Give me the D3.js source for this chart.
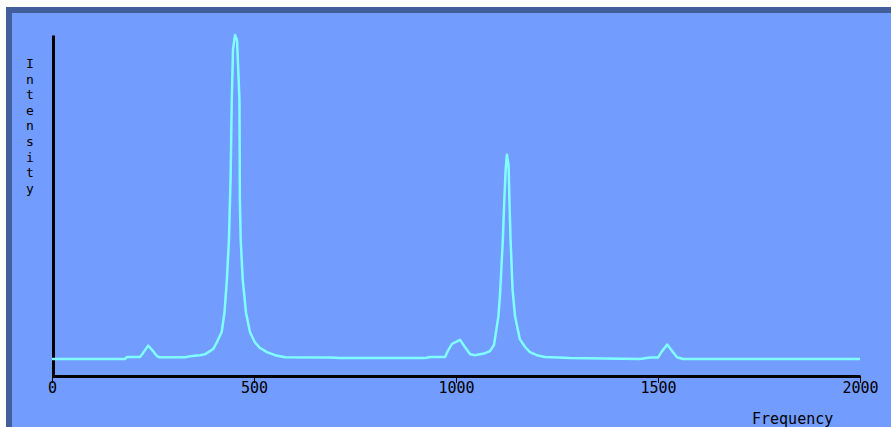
<!DOCTYPE html>
<html>
<head>
<meta charset="utf-8">
<script src="https://cdn.jsdelivr.net/npm/d3@7"></script>
<style>
  html, body { margin: 0; padding: 0; background: #fff; overflow: hidden; }
  #frame {
    position: absolute; left: 6px; top: 7px; width: 900px; height: 430px;
    background: #729cfe; border-left: 6px solid #435f9b; border-top: 6px solid #435f9b;
  }
  svg { position: absolute; left: 0; top: 0; }
</style>
</head>
<body>
<div id="frame"></div>
<div id="chart"></div>
<script>
// spectrum: frequency and relative intensity (peak = 100)
const freqs = [
  0, 181, 186, 218, 225, 238, 248, 260, 267, 329, 342, 366, 379, 391, 399, 408,
  420, 427, 433, 438, 442, 445, 448, 453, 458, 460, 464, 465, 467, 472, 480, 490,
  502, 515, 532, 552, 577, 688, 713, 923, 936, 973, 980, 990, 1010, 1022, 1035,
  1047, 1072, 1084, 1094, 1105, 1109, 1116, 1120, 1123, 1126, 1130, 1132, 1135,
  1140, 1146, 1158, 1171, 1183, 1200, 1220, 1282, 1455, 1480, 1500, 1510, 1523,
  1535, 1547, 1562, 2000,
]
const intensity = [
  5.0, 5.0, 5.6, 5.6, 6.7, 8.9, 7.6, 5.8, 5.5, 5.5, 5.8, 6.1, 6.4, 7.3, 7.9, 9.9,
  12.9, 18.7, 28.4, 40.1, 57.6, 81.0, 95.6, 100, 98.5, 92.7, 81.0, 51.8, 40.1, 28.4, 18.7, 12.9,
  9.9, 8.2, 7.0, 6.1, 5.5, 5.4, 5.3, 5.3, 5.6, 5.6, 7.4, 9.4, 10.6, 8.5, 6.4,
  6.1, 6.7, 7.3, 9.1, 17.5, 24.0, 40.1, 52.7, 60.5, 64.9, 62.0, 52.7, 40.1,
  25.4, 17.6, 10.8, 8.5, 7.0, 6.1, 5.6, 5.3, 5.0, 5.4, 5.4, 7.3, 9.2,
  7.3, 5.5, 5.0, 5.0,
]
const xTicks = [0, 500, 1000, 1500, 2000]
const yLabel = 'Intensity'
const xLabel = 'Frequency'

const width = 891
const height = 427
const font = '"DejaVu Sans Mono", monospace'

const svg = d3
  .select('#chart')
  .append('svg')
  .attr('width', width)
  .attr('height', height)

const x = d3.scaleLinear().domain([0, 2000]).range([52, 860])
const y = d3.scaleLinear().domain([0, 100]).range([376, 35])

// x axis: thick line, short ticks going down, labels right under
const xAxis = svg
  .append('g')
  .attr('transform', 'translate(0,376)')
  .call(
    d3.axisBottom(x).tickValues(xTicks).tickFormat(d3.format('d'))
      .tickSize(7).tickSizeOuter(0).tickPadding(-1),
  )
xAxis.select('.domain').attr('stroke', '#000').attr('stroke-width', 3)
xAxis.selectAll('.tick line').attr('stroke', '#000').attr('stroke-width', 1)
xAxis
  .selectAll('.tick text')
  .attr('fill', '#000')
  .style('font-family', font)
  .style('font-size', '15px')

// y axis: only the line
const yAxis = svg
  .append('g')
  .attr('transform', 'translate(53,0)')
  .call(d3.axisLeft(y).tickValues([]).tickSizeOuter(0))
yAxis.select('.domain').attr('stroke', '#000').attr('stroke-width', 3)

// spectrum line
const line = d3
  .line()
  .x((d, i) => x(freqs[i]))
  .y(d => y(d))

svg
  .append('path')
  .datum(intensity)
  .attr('fill', 'none')
  .attr('stroke', '#7fffff')
  .attr('stroke-width', 2.5)
  .attr('stroke-linejoin', 'round')
  .attr('d', line)

// vertical stacked y label, one letter per line
svg
  .append('text')
  .attr('y', 68)
  .attr('text-anchor', 'middle')
  .style('font-family', font)
  .style('font-size', '13px')
  .attr('fill', '#000')
  .selectAll('tspan')
  .data(yLabel.split(''))
  .join('tspan')
  .attr('x', 30)
  .attr('dy', (d, i) => (i === 0 ? 0 : 15.6))
  .text(d => d)

svg
  .append('text')
  .attr('x', 752)
  .attr('y', 424)
  .style('font-family', font)
  .style('font-size', '15px')
  .attr('fill', '#000')
  .text(xLabel)
</script>
</body>
</html>
